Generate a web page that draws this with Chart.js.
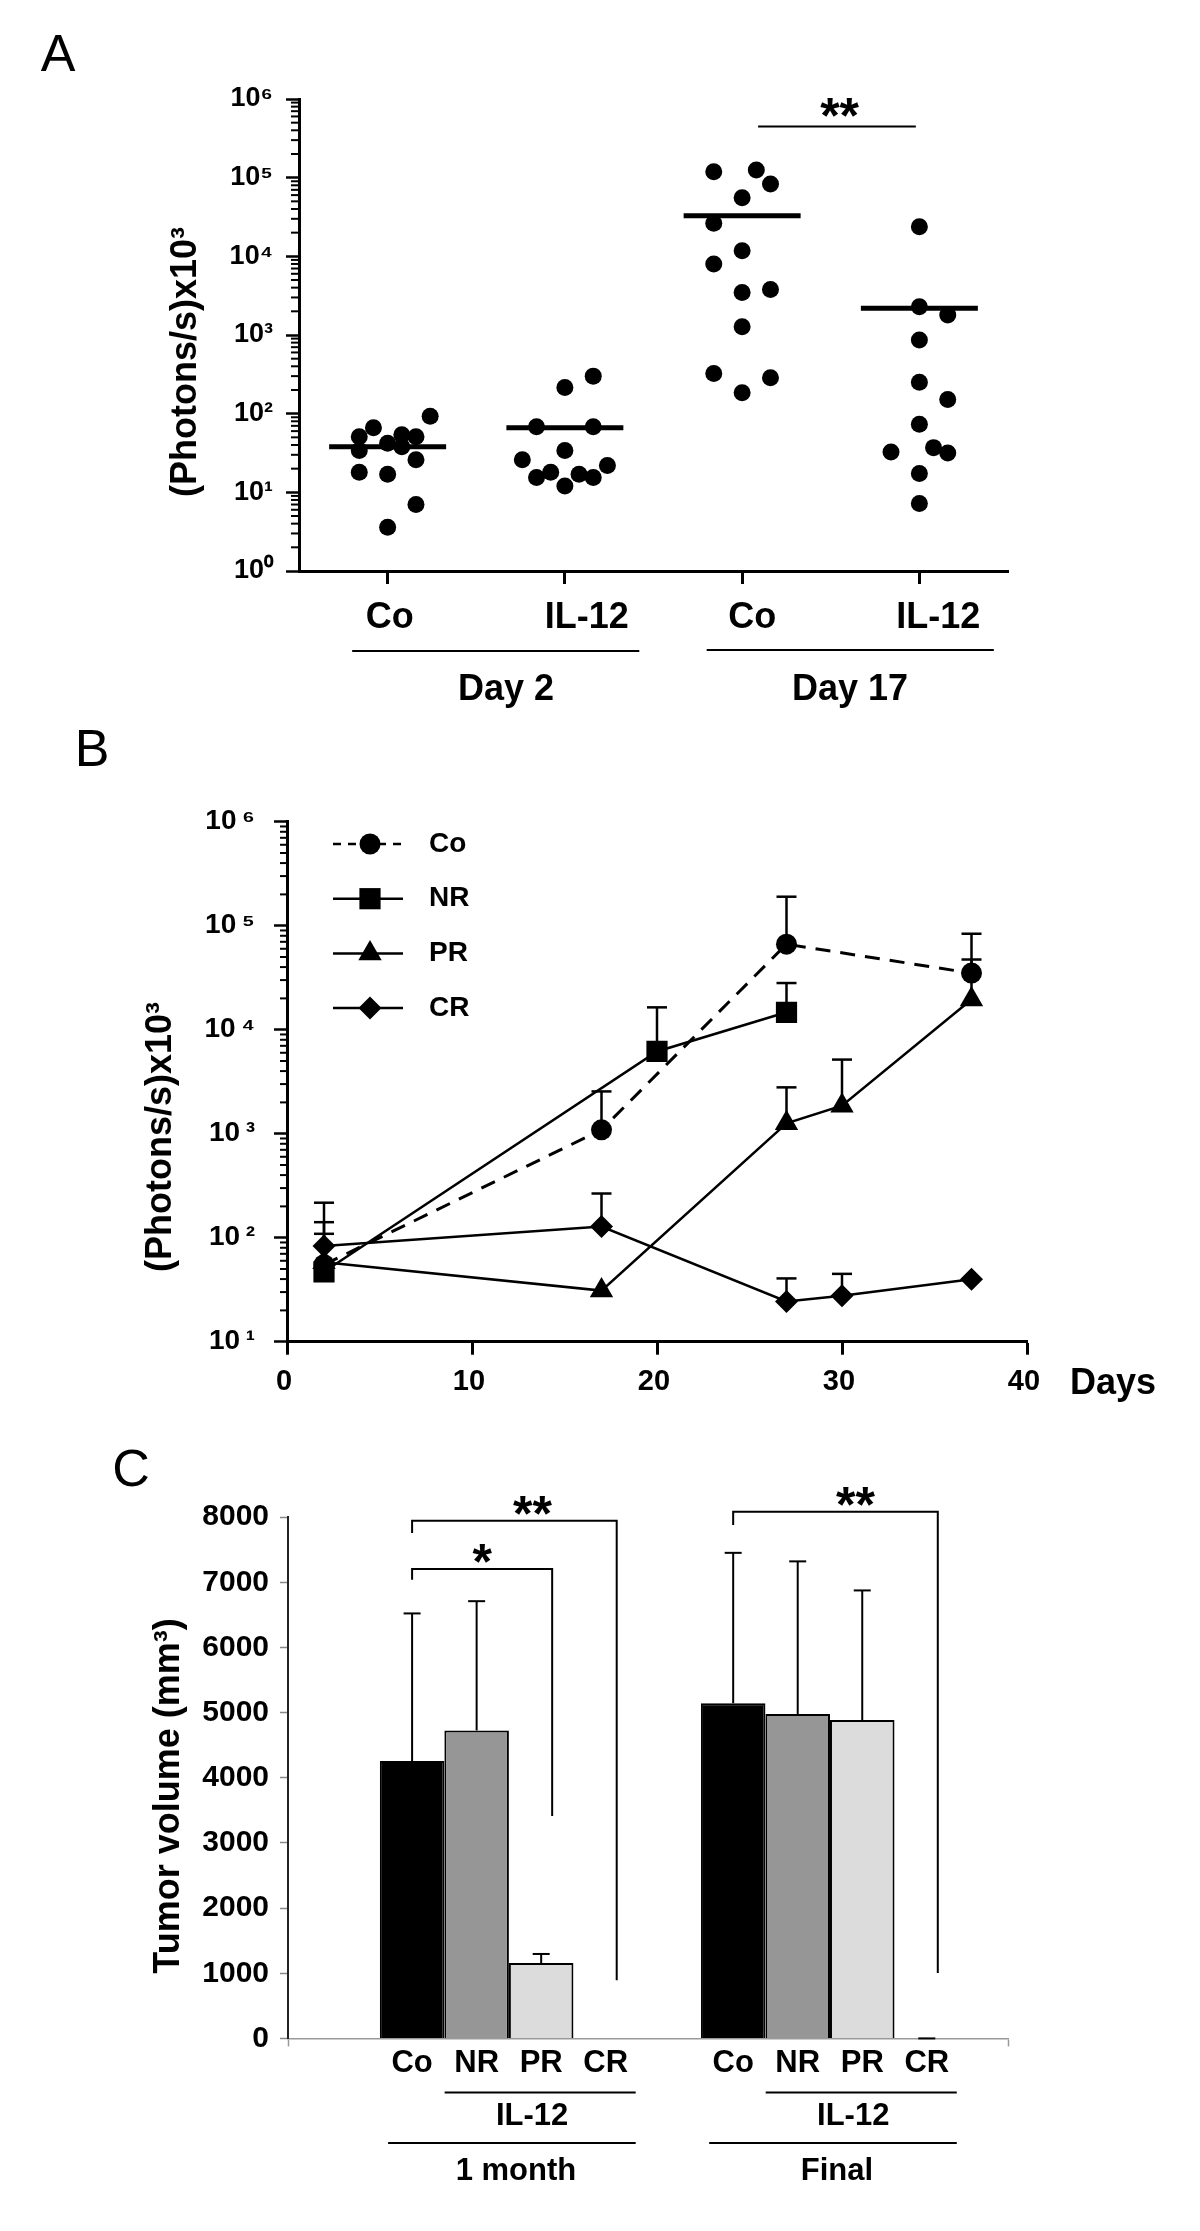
<!DOCTYPE html>
<html>
<head>
<meta charset="utf-8">
<script src="https://cdn.jsdelivr.net/npm/chart.js@4.4.1/dist/chart.umd.min.js"></script>
<style>
  html, body { margin: 0; background: #fff; }
  #page { position: relative; width: 1200px; height: 2231px; overflow: hidden; background: #fff; }
  canvas { position: absolute; left: 0; }
</style>
</head>
<body>
<div id="page">
  <canvas id="chartA" width="1200" height="760" style="top:0px;width:1200px;height:760px"></canvas>
  <canvas id="chartB" width="1200" height="760" style="top:700px;width:1200px;height:760px"></canvas>
  <canvas id="chartC" width="1200" height="811" style="top:1420px;width:1200px;height:811px"></canvas>
</div>
<script>
// ---------- panel A: photons/s per mouse ----------
const groupsA = ["Co", "IL-12", "Co", "IL-12"];
const daysA = ["Day 2", "Day 17"];
const coDay2 = [51, 66, 42, 54, 38, 51, 34, 93, 26, 18, 17, 7.0, 3.6];
const coDay2Jitter = [-0.16, -0.08, 0, 0.08, 0.08, 0.16, -0.16, 0.24, 0.16, -0.16, 0, 0.16, 0];
const il12Day2 = [68, 68, 34, 26, 22, 18, 17, 15.4, 15.4, 12, 215, 300];
const il12Day2Jitter = [-0.16, 0.16, 0, -0.24, 0.24, -0.08, 0.08, -0.16, 0.16, 0, 0, 0.16];
const coDay17 = [119000, 125000, 83000, 55600, 26300, 11800, 8000, 3480, 3800, 1270, 325, 286, 184];
const coDay17Jitter = [-0.16, 0.08, 0.16, 0, -0.16, 0, -0.16, 0, 0.16, 0, -0.16, 0.16, 0];
const il12Day17 = [23800, 2290, 1790, 861, 250, 151, 73.5, 32.6, 37, 31.7, 17.3, 7.2];
const il12Day17Jitter = [0, 0, 0.16, 0, 0, 0.16, 0, -0.16, 0.08, 0.16, 0, 0];
const mediansA = [38, 66, 32900, 2180];

// ---------- panel B: follow-up by response group ----------
const coDays = [2, 17, 27, 37];
const coMean = [55, 1090, 66400, 35000];
const coUpper = [217, 2550, 190000, 83700];
const nrDays = [2, 20, 27];
const nrMean = [47, 6180, 14700];
const nrUpper = [109, 16400, 28100];
const prDays = [2, 17, 27, 30, 37];
const prMean = [58, 31, 1260, 1860, 19500];
const prUpper = [null, null, 2790, 5160, 47300];
const crDays = [2, 17, 27, 30, 37];
const crMean = [83, 128, 24.4, 27.6, 39.8];
const crUpper = [141, 266, 40.6, 44.9, null];

// ---------- panel C: tumor volume ----------
const timepointsC = ["1 month", "Final"];
const groupsC = ["Co", "NR", "PR", "CR"];
const volCo = [4258, 5145];
const volNR = [4727, 4980];
const volPR = [1157, 4887];
const volCR = [0, 0];
const upperCo = [6523, 7453];
const upperNR = [6711, 7322];
const upperPR = [1296, 6876];
const upperCR = [null, 0];

const FONT = "'Liberation Sans', Arial, Helvetica, sans-serif";
Chart.defaults.font.family = FONT;
Chart.defaults.color = '#000';

const SUP = {'0': '\u2070', '1': '\u00b9', '2': '\u00b2', '3': '\u00b3', '4': '\u2074',
             '5': '\u2075', '6': '\u2076', '7': '\u2077', '8': '\u2078', '9': '\u2079'};
function pow10Label(v, gap) {
  return '10' + gap + SUP[String(Math.round(Math.log10(v)))];
}

function seg(ctx, x1, y1, x2, y2) {
  ctx.beginPath(); ctx.moveTo(x1, y1); ctx.lineTo(x2, y2); ctx.stroke();
}
function vText(ctx, text, x, y, font) {
  ctx.save();
  ctx.translate(x, y); ctx.rotate(-Math.PI / 2);
  ctx.font = font; ctx.textAlign = 'center'; ctx.textBaseline = 'middle';
  ctx.fillText(text, 0, 0);
  ctx.restore();
}
function marker(ctx, style, x, y, r) {
  ctx.beginPath();
  if (style === 'circle') {
    ctx.arc(x, y, r, 0, 2 * Math.PI);
  } else if (style === 'rect') {
    const s = r * Math.SQRT1_2;
    ctx.rect(x - s, y - s, 2 * s, 2 * s);
  } else if (style === 'triangle') {
    ctx.moveTo(x, y - r);
    ctx.lineTo(x + r * Math.sin(2 * Math.PI / 3), y - r * Math.cos(2 * Math.PI / 3));
    ctx.lineTo(x + r * Math.sin(4 * Math.PI / 3), y - r * Math.cos(4 * Math.PI / 3));
    ctx.closePath();
  } else {
    ctx.moveTo(x, y - r); ctx.lineTo(x + r, y); ctx.lineTo(x, y + r); ctx.lineTo(x - r, y);
    ctx.closePath();
  }
  ctx.fill();
}

// short minor ticks (2..9 x 10^n) on the log axes
const minorLogTicks = {
  id: 'minorLogTicks',
  afterDraw(chart, args, opts) {
    const ys = chart.scales.y, ctx = chart.ctx, x0 = chart.chartArea.left;
    const e0 = Math.round(Math.log10(ys.min)), e1 = Math.round(Math.log10(ys.max));
    ctx.save();
    ctx.strokeStyle = '#000'; ctx.lineWidth = opts.width;
    for (let e = e0; e < e1; e++) {
      for (let m = 2; m < 10; m++) {
        const py = ys.getPixelForValue(m * Math.pow(10, e));
        seg(ctx, x0 - opts.len, py, x0, py);
      }
    }
    ctx.restore();
  }
};

// upper error bars read from dataset.upper
function drawErr(chart, opts) {
  const ctx = chart.ctx, ys = chart.scales.y;
  ctx.save();
  ctx.strokeStyle = '#000'; ctx.lineWidth = opts.width;
  chart.data.datasets.forEach((ds, i) => {
    if (!ds.upper) return;
    chart.getDatasetMeta(i).data.forEach((el, j) => {
      const u = ds.upper[j];
      if (u == null) return;
      const top = ys.getPixelForValue(u);
      seg(ctx, el.x, el.y, el.x, top);
      seg(ctx, el.x - opts.cap, top, el.x + opts.cap, top);
    });
  });
  ctx.restore();
}
const errorBars = {
  id: 'errorBars',
  beforeDatasetsDraw(chart, args, opts) { if (!opts.onTop) drawErr(chart, opts); },
  afterDatasetsDraw(chart, args, opts) { if (opts.onTop) drawErr(chart, opts); }
};

// ================= chart A =================
const pointsA = [[coDay2, coDay2Jitter], [il12Day2, il12Day2Jitter],
                 [coDay17, coDay17Jitter], [il12Day17, il12Day17Jitter]];
const datasetsA = [];
pointsA.forEach(([vals, jit], i) => {
  datasetsA.push({
    data: vals.map((v, k) => ({x: i + jit[k], y: v})),
    pointRadius: 8.5, pointHoverRadius: 8.5, pointBorderWidth: 0,
    backgroundColor: '#000', borderColor: '#000'
  });
});
mediansA.forEach((m, i) => {
  datasetsA.push({
    type: 'line', showLine: true,
    data: [{x: i - 0.33, y: m}, {x: i + 0.33, y: m}],
    borderColor: '#000', borderWidth: 5, pointRadius: 0
  });
});

const panelA = {
  id: 'panelA',
  afterDraw(chart) {
    const ctx = chart.ctx, xs = chart.scales.x, ys = chart.scales.y;
    ctx.save();
    ctx.fillStyle = '#000'; ctx.strokeStyle = '#000';
    ctx.font = 'bold 36px ' + FONT;
    ctx.textAlign = 'center'; ctx.textBaseline = 'middle';
    const shift = [2, 22, 10, 19];
    groupsA.forEach((g, i) => ctx.fillText(g, xs.getPixelForValue(i) + shift[i], 618));
    ctx.lineWidth = 2;
    seg(ctx, xs.getPixelForValue(-0.2), 651, xs.getPixelForValue(1.42), 651);
    seg(ctx, xs.getPixelForValue(1.8), 650, xs.getPixelForValue(3.42), 650);
    ctx.fillText(daysA[0], 506, 690);
    ctx.fillText(daysA[1], 850, 690);
    // significance bar
    const ySig = ys.getPixelForValue(4.46e5);
    seg(ctx, xs.getPixelForValue(2.09), ySig, xs.getPixelForValue(2.98), ySig);
    ctx.font = 'bold 50px ' + FONT; ctx.textBaseline = 'alphabetic';
    ctx.fillText('**', xs.getPixelForValue(2.55), ySig + 6);
    vText(ctx, '(Photons/s)x10\u00b3', 186, 362, 'bold 36px ' + FONT);
    ctx.font = '52px ' + FONT; ctx.textBaseline = 'middle'; ctx.textAlign = 'center';
    ctx.fillText('A', 58, 57);
    ctx.restore();
  }
};

new Chart(document.getElementById('chartA'), {
  type: 'scatter',
  data: {datasets: datasetsA},
  options: {
    responsive: false, animation: false, devicePixelRatio: 1,
    events: [],
    layout: {padding: {left: 149, right: 192, top: 99, bottom: 89}},
    plugins: {legend: {display: false}, tooltip: {enabled: false},
              minorLogTicks: {len: 8, width: 2}},
    scales: {
      x: {
        type: 'linear', min: -0.5, max: 3.5, offset: false,
        afterBuildTicks: s => { s.ticks = groupsA.map((g, i) => ({value: i})); },
        afterFit: s => { s.height = 100; },
        ticks: {callback: () => ''},
        grid: {drawOnChartArea: false, offset: false, tickLength: 13, tickWidth: 3, tickColor: '#000'},
        border: {color: '#000', width: 3}
      },
      y: {
        type: 'logarithmic', min: 1, max: 1e6,
        afterBuildTicks: s => { s.ticks = [0, 1, 2, 3, 4, 5, 6].map(e => ({value: Math.pow(10, e)})); },
        afterFit: s => { s.width = 150; },
        ticks: {callback: v => pow10Label(v, ''), font: {size: 27, weight: 'bold'}, padding: 13, color: '#000'},
        grid: {drawOnChartArea: false, tickLength: 13, tickWidth: 2.5, tickColor: '#000'},
        border: {color: '#000', width: 3}
      }
    }
  },
  plugins: [minorLogTicks, panelA]
});

// ================= chart B =================
const seriesB = [
  {label: 'Co', days: coDays, mean: coMean, upper: coUpper, style: 'circle', r: 10.5, dash: [15, 10]},
  {label: 'NR', days: nrDays, mean: nrMean, upper: nrUpper, style: 'rect', r: 15, dash: []},
  {label: 'PR', days: prDays, mean: prMean, upper: prUpper, style: 'triangle', r: 13.5, dash: []},
  {label: 'CR', days: crDays, mean: crMean, upper: crUpper, style: 'rectRot', r: 11.5, dash: []}
];
const datasetsB = seriesB.map(s => ({
  label: s.label,
  data: s.days.map((d, k) => ({x: d, y: s.mean[k]})),
  upper: s.upper,
  borderColor: '#000', backgroundColor: '#000',
  borderWidth: s.dash.length ? 3 : 2.5, borderDash: s.dash,
  pointStyle: s.style, pointRadius: s.r, pointHoverRadius: s.r, pointBorderWidth: 0,
  tension: 0
}));

const panelB = {
  id: 'panelB',
  afterDraw(chart) {
    const ctx = chart.ctx;
    ctx.save();
    ctx.fillStyle = '#000'; ctx.strokeStyle = '#000';
    ctx.font = 'bold 28px ' + FONT;
    ctx.textAlign = 'left'; ctx.textBaseline = 'middle';
    seriesB.forEach((s, i) => {
      const y = 144 + i * 54.7;
      ctx.lineWidth = 2.5;
      ctx.setLineDash(s.dash.length ? [8, 7] : []);
      seg(ctx, 333, y, 403, y);
      ctx.setLineDash([]);
      marker(ctx, s.style, 370, y, s.r);
      ctx.fillText(s.label, 429, y);
    });
    ctx.font = 'bold 36px ' + FONT; ctx.textAlign = 'center';
    ctx.fillText('Days', 1113, 684);
    vText(ctx, '(Photons/s)x10\u00b3', 161, 437, 'bold 36px ' + FONT);
    ctx.font = '52px ' + FONT;
    ctx.fillText('B', 92, 52);
    ctx.restore();
  }
};

new Chart(document.getElementById('chartB'), {
  type: 'line',
  data: {datasets: datasetsB},
  options: {
    responsive: false, animation: false, devicePixelRatio: 1,
    events: [],
    layout: {padding: {left: 137, right: 173, top: 121.7, bottom: 38.3}},
    plugins: {legend: {display: false}, tooltip: {enabled: false},
              minorLogTicks: {len: 7, width: 2},
              errorBars: {width: 2.5, cap: 10, onTop: false}},
    scales: {
      x: {
        type: 'linear', min: 0, max: 40, offset: false,
        ticks: {stepSize: 10, font: {size: 29, weight: 'bold'}, padding: 10, color: '#000', labelOffset: -3},
        afterFit: s => { s.height = 80; },
        grid: {drawOnChartArea: false, tickLength: 13, tickWidth: 3, tickColor: '#000'},
        border: {color: '#000', width: 3}
      },
      y: {
        type: 'logarithmic', min: 10, max: 1e6,
        afterBuildTicks: s => { s.ticks = [1, 2, 3, 4, 5, 6].map(e => ({value: Math.pow(10, e)})); },
        afterFit: s => { s.width = 150; },
        ticks: {callback: v => pow10Label(v, '\u2009'), font: {size: 28, weight: 'bold'}, padding: 19, color: '#000'},
        grid: {drawOnChartArea: false, tickLength: 13, tickWidth: 2.5, tickColor: '#000'},
        border: {color: '#000', width: 3}
      }
    }
  },
  plugins: [minorLogTicks, errorBars, panelB]
});

// ================= chart C =================
const colorsC = ['#000000', '#969696', '#dcdcdc', 'rgba(0,0,0,0)'];
const volumesC = [volCo, volNR, volPR, volCR];
const uppersC = [upperCo, upperNR, upperPR, upperCR];
const datasetsC = groupsC.map((g, d) => ({
  label: g,
  data: volumesC[d].map((v, t) => ({x: t, y: v})),
  upper: uppersC[d],
  backgroundColor: colorsC[d],
  borderColor: '#000',
  borderWidth: d === 3 ? 0 : 2,
  categoryPercentage: 0.804, barPercentage: 1
}));
// significance brackets: timepoint, last group, top, left end, right end, mark, text shift
const bracketsC = [
  {t: 0, to: 3, top: 7945, left: 7757, right: 892, mark: '**', dx: 18},
  {t: 0, to: 2, top: 7205, left: 7041, right: 3415, mark: '*', dx: 0},
  {t: 1, to: 3, top: 8083, left: 7880, right: 1004, mark: '**', dx: 20}
];

const panelC = {
  id: 'panelC',
  afterDraw(chart) {
    const ctx = chart.ctx, ys = chart.scales.y;
    const cx = (d, t) => chart.getDatasetMeta(d).data[t].x;
    ctx.save();
    ctx.fillStyle = '#000'; ctx.strokeStyle = '#000';
    ctx.lineWidth = 2;
    bracketsC.forEach(b => {
      const x1 = cx(0, b.t), x2 = cx(b.to, b.t) + 11;
      const yt = ys.getPixelForValue(b.top);
      ctx.beginPath();
      ctx.moveTo(x1, ys.getPixelForValue(b.left));
      ctx.lineTo(x1, yt); ctx.lineTo(x2, yt);
      ctx.lineTo(x2, ys.getPixelForValue(b.right));
      ctx.stroke();
      ctx.font = 'bold 50px ' + FONT; ctx.textAlign = 'center'; ctx.textBaseline = 'alphabetic';
      ctx.fillText(b.mark, (x1 + x2) / 2 + b.dx, yt + 10.5);
    });
    ctx.font = 'bold 31px ' + FONT; ctx.textAlign = 'center'; ctx.textBaseline = 'middle';
    timepointsC.forEach((tp, t) => {
      groupsC.forEach((g, d) => ctx.fillText(g, cx(d, t), 643.5));
      const a = cx(1, t) - 32, b = cx(3, t) + 30;
      seg(ctx, a, 672.6, b, 672.6);
      ctx.fillText('IL-12', (a + b) / 2 - 8, 696);
      const c = cx(0, t) - 24, e = cx(3, t) + 30;
      seg(ctx, c, 723, e, 723);
      ctx.fillText(tp, (c + e) / 2 + 4, 751);
    });
    vText(ctx, 'Tumor volume (mm\u00b3)', 169, 376, 'bold 36px ' + FONT);
    ctx.font = '52px ' + FONT;
    ctx.fillText('C', 131, 52);
    ctx.restore();
  }
};

new Chart(document.getElementById('chartC'), {
  type: 'bar',
  data: {datasets: datasetsC},
  options: {
    responsive: false, animation: false, devicePixelRatio: 1,
    events: [],
    layout: {padding: {left: 138, right: 191.5, top: 97.2, bottom: 172.6}},
    plugins: {legend: {display: false}, tooltip: {enabled: false},
              errorBars: {width: 2, cap: 8.5, onTop: true}},
    scales: {
      x: {
        type: 'linear', min: -0.688, max: 1.556, offset: false,
        afterBuildTicks: s => { s.ticks = [{value: s.min}, {value: s.max}]; },
        afterFit: s => { s.height = 20; },
        ticks: {callback: () => ''},
        grid: {drawOnChartArea: false, offset: false, tickLength: 8, tickWidth: 1.5, tickColor: '#999'},
        border: {color: '#999', width: 1.5}
      },
      y: {
        min: 0, max: 8000,
        ticks: {stepSize: 1000, callback: v => String(v), font: {size: 30, weight: 'bold'}, padding: 11, color: '#000'},
        afterFit: s => { s.width = 150; },
        grid: {drawOnChartArea: false, tickLength: 8, tickWidth: 1.5, tickColor: '#888'},
        border: {color: '#222', width: 2}
      }
    }
  },
  plugins: [errorBars, panelC]
});
</script>
</body>
</html>
